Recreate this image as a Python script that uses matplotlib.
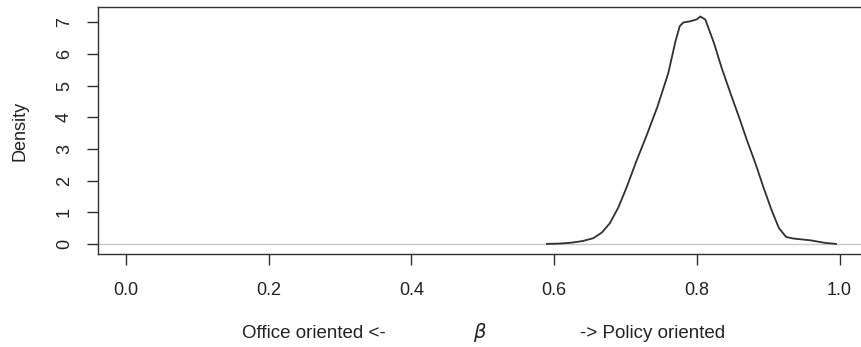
import matplotlib.pyplot as plt
import numpy as np

plt.rcParams['font.family'] = ['Liberation Sans', 'DejaVu Sans']

# posterior density of beta
beta = [0.590, 0.608, 0.625, 0.640, 0.655, 0.667, 0.678, 0.690, 0.702, 0.715,
        0.730, 0.745, 0.760, 0.770, 0.776, 0.781, 0.791, 0.800, 0.805, 0.812,
        0.824, 0.835, 0.847, 0.860, 0.870, 0.882, 0.893, 0.905, 0.915, 0.925,
        0.935, 0.960, 0.980, 0.995]
density = [0.0, 0.01, 0.04, 0.09, 0.18, 0.36, 0.65, 1.15, 1.81, 2.60,
           3.45, 4.35, 5.40, 6.40, 6.88, 7.00, 7.04, 7.10, 7.19, 7.09,
           6.35, 5.55, 4.77, 3.95, 3.29, 2.55, 1.81, 1.05, 0.50, 0.22,
           0.17, 0.11, 0.03, 0.0]

xticks = [0.0, 0.2, 0.4, 0.6, 0.8, 1.0]
yticks = [0, 1, 2, 3, 4, 5, 6, 7]

fig = plt.figure(figsize=(8.61, 3.47), dpi=100)
ax = fig.add_axes([98 / 861, 1 - 254 / 347, (866 - 98) / 861, (254 - 7) / 347])

ax.axhline(0, color='#c8c8c8', lw=1.0, zorder=1)
ax.plot(beta, density, color='#303030', lw=1.3, zorder=2)

ax.set_xlim(-0.039, 1.037)
ax.set_ylim(-0.32, 7.49)
ax.set_xticks(xticks)
ax.set_xticklabels(['%.1f' % t for t in xticks])
ax.set_yticks(yticks)
ax.set_yticklabels([str(t) for t in yticks], rotation=90, va='center')

for s in ax.spines.values():
    s.set_color('#303030')
    s.set_linewidth(1.0)
ax.spines['right'].set_visible(False)

ax.tick_params(axis='both', direction='out', length=8, width=1, color='#303030',
               labelsize=13, labelcolor='#222222')
ax.tick_params(axis='x', pad=12)
ax.tick_params(axis='y', pad=10)

ax.set_ylabel('Density', fontsize=13, color='#222222', labelpad=20)

fig.text(314 / 861, 1 - 333 / 347, 'Office oriented <-', ha='center', va='center',
         fontsize=13.5, color='#222222')
fig.text(480 / 861, 1 - 333 / 347, r'$\beta$', ha='center', va='center',
         fontsize=14, color='#222222')
fig.text(653 / 861, 1 - 333 / 347, '-> Policy oriented', ha='center', va='center',
         fontsize=13.5, color='#222222')

fig.savefig('out.png', dpi=100)
